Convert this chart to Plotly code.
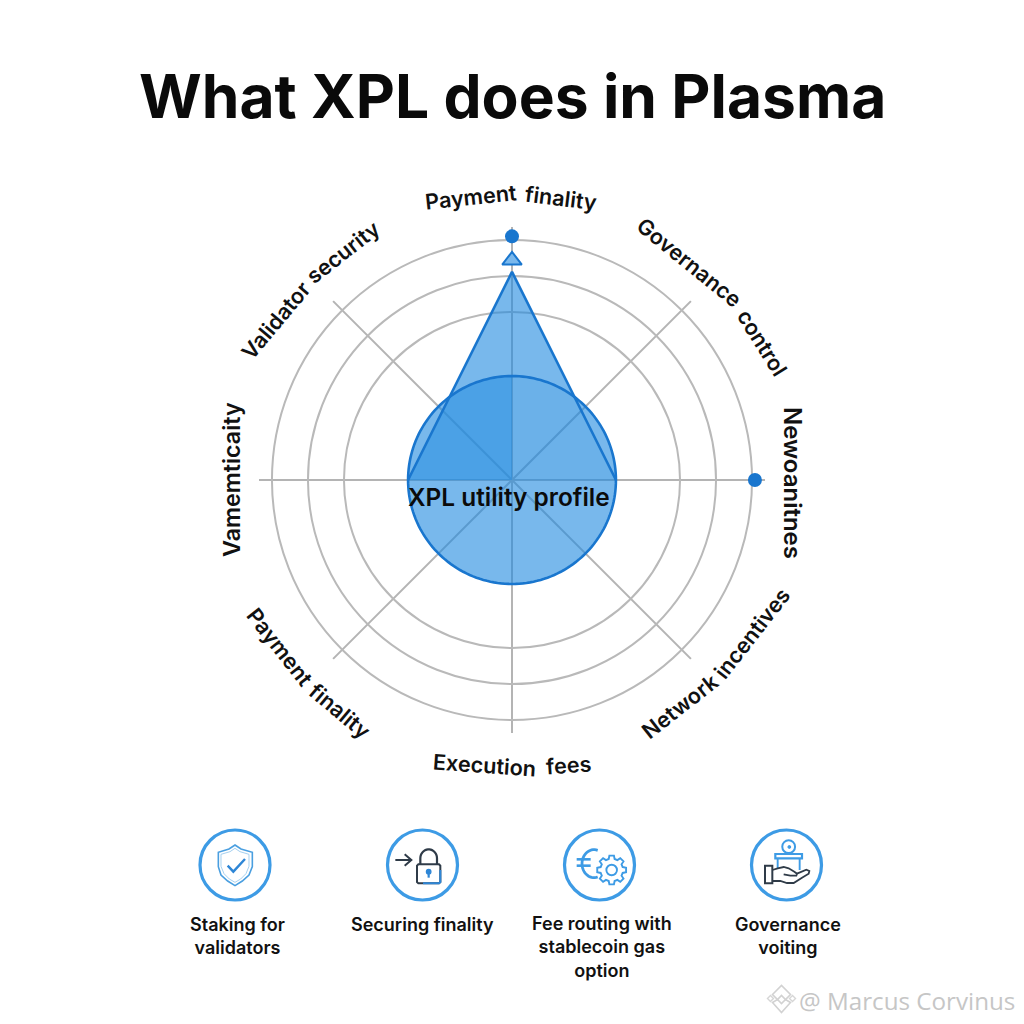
import numpy as np
import plotly.graph_objects as go

# ---- chart data ----
title_text = "What XPL does in Plasma"
center_text = "XPL utility profile"
axis_angles = [0, 45, 90, 135, 180, 225, 270, 315]
ring_values = [70, 85, 100]
radial_max = 105.4
circle_value = 43.3
triangle_apex_value = 86.7
triangle_base_value = 43.3
dot_values = [101.5, 101.2]
dot_angles = [90, 0]
triangle_marker_value = [91.5]
triangle_marker_angle = [90]
icon_captions = ["Staking for<br>validators", "Securing finality",
                 "Fee routing with<br>stablecoin gas<br>option", "Governance<br>voiting"]
watermark = "@ Marcus Corvinus"

# ---- helpers ----
W = H = 1024
BLUE = "#1976CE"
ICON = "#3D9BE5"
DARK = "#2F3B48"
FILL = "30,137,223"
FONT = "Inter"


def px(x, y):
    return x / W, 1 - y / H


def path(points, close=False):
    s = ""
    for i, (x, y) in enumerate(points):
        a, b = px(x, y)
        s += ("M" if i == 0 else "L") + f"{a:.5f},{b:.5f} "
    return s + ("Z" if close else "")


shapes = []


def line(points, color=DARK, width=1.5, close=False, fill=None):
    shapes.append(dict(type="path", xref="paper", yref="paper", path=path(points, close),
                       line=dict(color=color, width=width),
                       fillcolor=fill if fill else "rgba(0,0,0,0)"))


def circle(cx, cy, r, color=ICON, width=1.5, fill=None):
    x0, y1 = px(cx - r, cy - r)
    x1, y0 = px(cx + r, cy + r)
    shapes.append(dict(type="circle", xref="paper", yref="paper", x0=x0, x1=x1, y0=y0, y1=y1,
                       line=dict(color=color, width=width),
                       fillcolor=fill if fill else "rgba(0,0,0,0)"))


def local(ox, oy, pts):
    return [(ox + x / 3, oy + y / 3) for x, y in pts]


# icon rings
icon_centers = [(235, 865), (422.5, 865), (599.5, 865), (786.5, 865)]
for c in icon_centers:
    circle(c[0], c[1], 35, ICON, 3.2)

# shield
ox, oy = 195, 825
shield = [(120, 60), (138, 72), (172, 82), (172, 125), (162, 150), (142, 168), (120, 182),
          (98, 168), (78, 150), (70, 125), (70, 82), (102, 72)]
line(local(ox, oy, shield), "#4A9FE0", 1.6, True)
inner = [(120, 70), (135, 80), (162, 88), (162, 124), (153, 146), (137, 162), (120, 172),
         (103, 162), (87, 146), (78, 124), (78, 88), (105, 80)]
line(local(ox, oy, inner), "#A5D0F0", 1, True)
line(local(ox, oy, [(98, 122), (115, 140), (150, 102)]), "#2E86D6", 2.4)

# lock
ox, oy = 383, 825
line(local(ox, oy, [(37, 105), (85, 105)]), DARK, 2)
line(local(ox, oy, [(65, 88), (85, 105), (65, 122)]), DARK, 2)
shackle = [(112, 118), (112, 100)] + [(137 + 25 * np.cos(a), 100 - 27 * np.sin(a)) for a in np.radians(np.linspace(180, 0, 20))] + [(162, 118)]
line(local(ox, oy, shackle), DARK, 2.2)
line(local(ox, oy, [(102, 122), (106, 118), (168, 118), (172, 122), (172, 171), (168, 175), (106, 175), (102, 171)]), DARK, 2, True)
line(local(ox, oy, [(172, 135), (172, 171), (168, 175), (120, 175)]), "#2E86D6", 2)
circle(ox + 137 / 3, oy + 140 / 3, 2.3, "#2E86D6", 1.2, "#2E86D6")
line(local(ox, oy, [(137, 142), (137, 158)]), "#2E86D6", 2.2)

# euro + gear
ox, oy = 560, 825
euro = [(102 + 36 * np.cos(a), 116 - 42 * np.sin(a)) for a in np.radians(np.linspace(72, 288, 30))]
line(local(ox, oy, euro), ICON, 2.8)
line(local(ox, oy, [(50, 103), (92, 103)]), ICON, 2.6)
line(local(ox, oy, [(50, 122), (92, 122)]), ICON, 2.6)
gcx, gcy = ox + 155 / 3, oy + 135 / 3
gear = []
for k in range(8):
    base = k * 45
    for da, r in [(-15, 11.4), (-9, 14.6), (9, 14.6), (15, 11.4)]:
        a = np.radians(base + da)
        gear.append((gcx + r * np.cos(a), gcy + r * np.sin(a)))
line(gear, ICON, 1.9, True)
circle(gcx, gcy, 5.3, ICON, 1.9)

# governance hand
ox, oy = 747, 825
circle(ox + 125 / 3, oy + 65 / 3, 6.4, ICON, 2)
circle(ox + 127 / 3, oy + 66 / 3, 1.4, ICON, 1, ICON)
line(local(ox, oy, [(85, 87), (165, 87), (165, 100), (85, 100)]), ICON, 2.2, True)
line(local(ox, oy, [(92, 100), (92, 130)]), ICON, 1.9)
line(local(ox, oy, [(158, 100), (158, 135)]), ICON, 1.9)
line(local(ox, oy, [(54, 122), (76, 122), (76, 175), (54, 175)]), DARK, 2, True)
hand = [(76, 135), (92, 130), (110, 126), (125, 130), (142, 140), (150, 146), (148, 152), (130, 152), (110, 148)]
line(local(ox, oy, hand), DARK, 1.8)
hand2 = [(150, 146), (178, 134), (187, 138), (185, 146), (165, 158), (140, 174), (120, 174), (100, 168), (76, 168)]
line(local(ox, oy, hand2), DARK, 1.8)

# watermark logo
lx, ly = 781.5, 998.5
line([(lx - 9, ly - 4), (lx, ly - 13), (lx + 9, ly - 4), (lx + 4, ly + 1), (lx, ly - 3), (lx - 4, ly + 1)], "#D2D2D2", 1.6, True)
line([(lx - 9, ly + 4), (lx, ly + 14), (lx + 9, ly + 4), (lx + 4, ly + 1), (lx, ly + 5), (lx - 4, ly + 1)], "#D2D2D2", 1.6, True)
line([(lx - 14, ly), (lx - 11, ly - 3), (lx - 8, ly), (lx - 11, ly + 3)], "#D6D6D6", 1.4, True)
line([(lx + 14, ly), (lx + 11, ly - 3), (lx + 8, ly), (lx + 11, ly + 3)], "#D6D6D6", 1.4, True)

# ---- chart ----
fig = go.Figure()
dense = list(range(0, 361, 2))
arc_left = list(np.linspace(126.87, 90, 20))
arc_right = list(np.linspace(53.13, 90, 20))
arc_cap = list(np.linspace(53.13, 126.87, 30))
R = circle_value


def poly(r, theta, fill=None, stroke=None, width=2.6):
    fig.add_trace(go.Scatterpolar(
        r=r, theta=theta, mode="lines", hoverinfo="skip", showlegend=False,
        fill="toself" if fill else "none", fillcolor=fill,
        line=dict(color=stroke if stroke else "rgba(0,0,0,0)", width=width if stroke else 0)))


# disc, cap of the triangle above it, then the darker overlaps
poly([R] * len(dense), dense, fill=f"rgba({FILL},0.6)")
poly([triangle_apex_value] + [R] * len(arc_cap) + [triangle_apex_value], [90] + arc_cap + [90], fill=f"rgba({FILL},0.6)")
poly([triangle_base_value] + [R] * len(arc_left) + [0], [180] + arc_left + [90], fill=f"rgba({FILL},0.5)")
poly([triangle_base_value] + [R] * len(arc_right) + [0], [0] + arc_right + [90], fill=f"rgba({FILL},0.14)")
# outlines
poly([R] * len(dense), dense, stroke=BLUE, width=2.6)
poly([triangle_apex_value, triangle_base_value, triangle_apex_value, triangle_base_value],
     [90, 180, 90, 0], stroke=BLUE, width=2.6)

fig.add_trace(go.Scatterpolar(r=triangle_marker_value, theta=triangle_marker_angle, mode="markers",
                              hoverinfo="skip", showlegend=False,
                              marker=dict(symbol="triangle-up", size=17, color="#7AB8EC",
                                          line=dict(color=BLUE, width=2))))
fig.add_trace(go.Scatterpolar(r=dot_values, theta=dot_angles, mode="markers", hoverinfo="skip", showlegend=False,
                              marker=dict(size=14, color=BLUE)))


def note(text, x, y, size, rot=0, color="#111111", weight=600, family=FONT, xanchor="center"):
    a, b = px(x, y)
    return dict(text=text, x=a, y=b, xref="paper", yref="paper", showarrow=False, textangle=rot,
                xanchor=xanchor, yanchor="middle", align="center",
                font=dict(family=family, size=size, color=color, weight=weight))


LS = 21.6
annotations = [
    note(title_text, 512, 96, 60.5, weight=700, color="#0A0A0A"),
    note(center_text, 509, 497, 24.4, color="#0B0B0B"),
    note("Payment", 471, 197, LS, -6),
    note("finality", 561, 198, LS, 7),
    note("Validator", 276, 320, LS, -50),
    note("security", 343, 252, LS, -38),
    note("Governance", 689, 262, LS, 39),
    note("control", 762, 342, LS, 58),
    note("Newoanitnes", 793, 483, 24, 90),
    note("Vamemticaity", 231, 480, 23.3, -90),
    note("Network", 680, 706, LS, -38),
    note("incentives", 752, 633, LS, -52),
    note("Execution", 484, 765, LS, 4),
    note("fees", 568, 765, LS, -4),
    note("Payment", 280, 647, LS, 52),
    note("finality", 340, 711, LS, 40),
    note(icon_captions[0], 237, 936, 18),
    note(icon_captions[1], 422, 924, 18),
    note(icon_captions[2], 602, 947, 18),
    note(icon_captions[3], 788, 936, 18),
    note(watermark, 1017, 1000, 24.2, color="#C6C6C6", weight=400, family="Open Sans", xanchor="right"),
]

x0, y1 = px(259, 227)
x1, y0 = px(765, 733)
fig.update_layout(
    width=W, height=H, margin=dict(l=0, r=0, t=0, b=0), autosize=False,
    paper_bgcolor="#FFFFFF", plot_bgcolor="#FFFFFF", showlegend=False,
    shapes=shapes, annotations=annotations,
    polar=dict(
        domain=dict(x=[x0, x1], y=[y0, y1]), bgcolor="rgba(0,0,0,0)",
        radialaxis=dict(range=[0, radial_max], tickvals=ring_values, showticklabels=False, ticks="",
                        showline=False, gridcolor="#B9B9B9", gridwidth=1.5),
        angularaxis=dict(direction="counterclockwise", rotation=0, tickmode="array", tickvals=axis_angles,
                         showticklabels=False, ticks="", showline=False, gridcolor="#B4B4B4", gridwidth=1.5),
    ),
)
fig.write_html("out.html", post_script="document.body.style.margin='0';", config=dict(displayModeBar=False))
